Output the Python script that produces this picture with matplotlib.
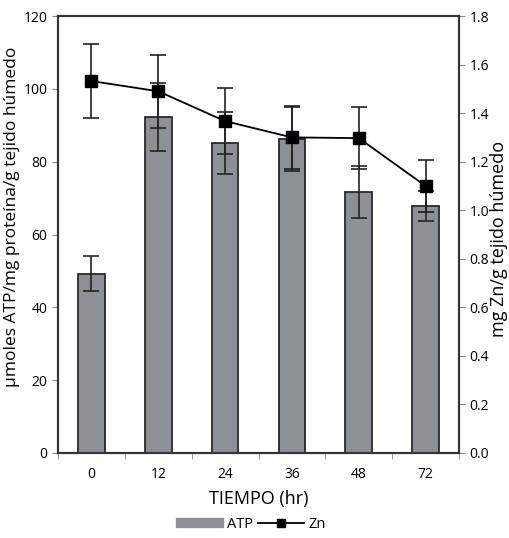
import numpy as np
import matplotlib
matplotlib.use("Agg")
import matplotlib.pyplot as plt
from matplotlib.patches import Patch
from matplotlib.lines import Line2D

plt.rcParams['font.family'] = ['Open Sans', 'DejaVu Sans']

tiempos = ['0', '12', '24', '36', '48', '72']
atp = [49.2, 92.3, 85.2, 86.3, 71.7, 67.9]
atp_err = [4.8, 9.3, 8.5, 8.8, 7.1, 4.1]
zn = [1.532, 1.49, 1.367, 1.30, 1.297, 1.10]
zn_err = [0.153, 0.15, 0.136, 0.13, 0.128, 0.107]

fig = plt.figure(figsize=(5.09, 5.38), dpi=100)
ax = fig.add_axes([58/509, 1 - 453/538, 401/509, 437/538])
x = np.arange(len(tiempos))

ax.bar(x, atp, width=0.4, color='#8f9094', edgecolor='#2a2a2a', linewidth=1.3, zorder=2)
ax.errorbar(x, atp, yerr=atp_err, fmt='none', ecolor='#222222', elinewidth=1.2,
            capsize=6, capthick=1.2, zorder=3)

ax.set_xlim(-0.5, len(tiempos) - 0.5)
ax.set_ylim(0, 120)
ax.set_yticks(range(0, 121, 20))
ax.set_xticks(x)
ax.set_xticklabels(tiempos, fontsize=10)
ax.tick_params(axis='x', length=0, pad=10)
ax.set_xticks(np.arange(-0.5, len(tiempos), 1), minor=True)
ax.tick_params(axis='x', which='minor', length=4, direction='out', color='#888888')
ax.tick_params(axis='y', labelsize=10, length=4, color='#888888')
for s in ax.spines.values():
    s.set_linewidth(1.5)
    s.set_color('#333333')
ax.set_xlabel('TIEMPO (hr)', fontsize=13, labelpad=6)
ax.set_ylabel('µmoles ATP/mg proteína/g tejido húmedo', fontsize=12.5)
ax.yaxis.set_label_coords(-0.095, 0.54)

ax2 = ax.twinx()
ax2.errorbar(x, zn, yerr=zn_err, color='black', marker='s', markersize=8,
             linewidth=1.3, ecolor='#222222', elinewidth=1.2, capsize=6, capthick=1.2, zorder=4)
ax2.set_ylim(0, 1.8)
ax2.set_yticks(np.arange(0, 1.81, 0.2))
ax2.set_yticklabels([f'{v:.1f}' for v in np.arange(0, 1.81, 0.2)])
ax2.tick_params(axis='y', labelsize=10, length=4, color='#888888')
for s in ax2.spines.values():
    s.set_linewidth(1.5)
    s.set_color('#333333')
ax2.set_ylabel('mg Zn/g tejido húmedo', fontsize=13)
ax2.yaxis.set_label_coords(1.078, 0.49)

handles = [Patch(facecolor='#8f9094', edgecolor='#8f9094'),
           Line2D([0], [0], color='black', marker='s', markersize=6, linewidth=1.3)]
fig.legend(handles, ['ATP', 'Zn'], loc='center', bbox_to_anchor=(251/509, 1 - 524/538),
           ncol=2, frameon=False, fontsize=10.5, handlelength=3.2, handletextpad=0.3,
           columnspacing=0.3, handleheight=0.6)

fig.savefig('out.png', dpi=100)
